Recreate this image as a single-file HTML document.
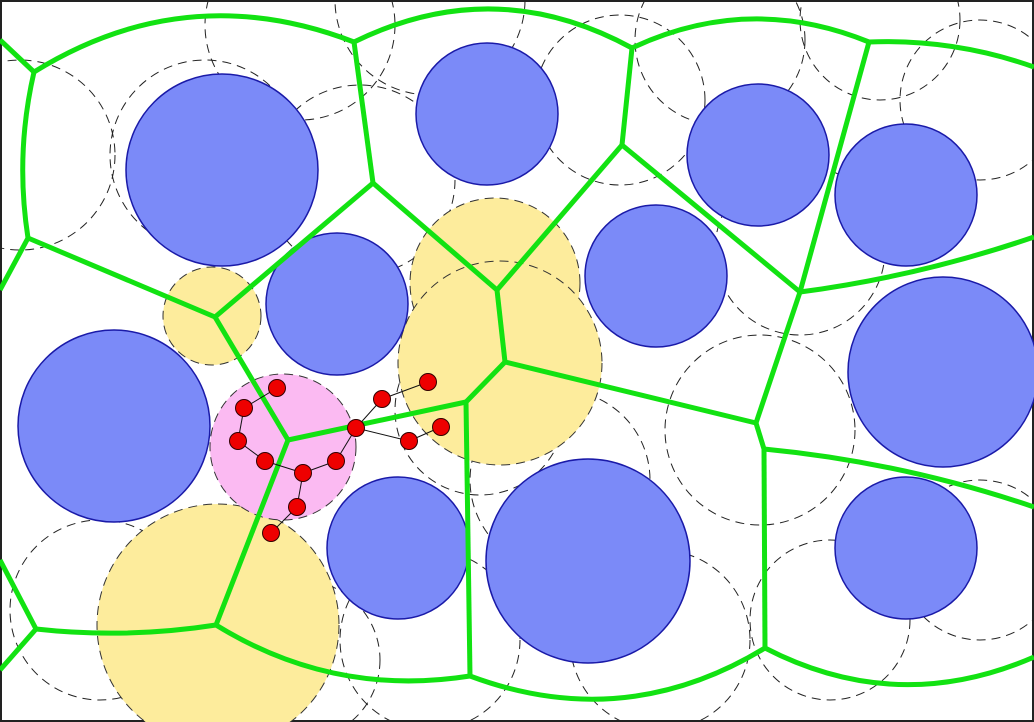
<!DOCTYPE html>
<html><head><meta charset="utf-8"><style>
body{margin:0;background:#fff}
svg{display:block}
</style></head><body>
<svg id="c" width="1034" height="722" viewBox="0 0 1034 722" xmlns="http://www.w3.org/2000/svg">
<rect x="1" y="1" width="1032" height="720" fill="#fff" stroke="#222" stroke-width="2"/>
<g id="dashed"></g>
<g id="yellow"></g>
<g id="blue"></g>
<g id="green"></g>
<g id="chain"></g>
</svg>
<script>
const blueCircles=[[222,170,96],[487,114,71],[758,155,71],[906,195,71],[337,304,71],[656,276,71],[114,426,96],[943,372,95],[398,548,71],[588,561,102],[906,548,71]];
const yellowCircles=[[212,316,49],[495,283,85],[500,363,102],[218,625,121]];
const pinkCircles=[[283,447,73]];
const dashedCircles=[[20,155,95],[205,155,95],[300,25,95],[360,180,95],[430,0,95],[480,410,85],[620,100,85],[720,40,85],[800,250,85],[760,430,95],[980,100,80],[880,20,80],[430,640,90],[660,640,90],[830,620,80],[980,560,80],[560,480,90],[100,610,90],[300,660,80]];
const redPoints=[[271,533],[297,507],[303,473],[265,461],[238,441],[244,408],[277,388],[336,461],[356,428],[382,399],[428,382],[409,441],[441,427]];
const redLinks=[[0,1],[1,2],[2,3],[3,4],[4,5],[5,6],[2,7],[7,8],[8,9],[9,10],[8,11],[11,12]];
// Voronoi edges: [x1,y1,x2,y2,bulge]
const edges=[[0,40,34,72,0],[34,72,354,42,-40],[354,42,632,48,-36],[632,48,869,42,-26],[869,42,1034,67,-8],
[34,72,28,238,8],[28,238,0,290,0],[28,238,215,317,0],[215,317,373,183,0],[373,183,354,42,0],[215,317,288,440,0],
[373,183,497,290,0],[497,290,622,145,0],[622,145,632,48,0],[622,145,800,292,0],[800,292,869,42,0],[800,292,1034,237,6],
[497,290,505,362,0],[505,362,466,402,0],[505,362,756,423,0],[756,423,800,292,0],[756,423,764,449,0],[764,449,1034,507,-8],
[764,449,765,648,0],[466,402,288,440,0],[466,402,470,676,0],[288,440,216,625,0],[36,629,216,625,6],[36,629,0,560,0],[36,629,0,670,0],
[216,625,470,676,24],[470,676,765,648,36],[765,648,1034,657,32]];
const NS='http://www.w3.org/2000/svg';
function circ(parent,c,fill,stroke,dash,w){const e=document.createElementNS(NS,'circle');e.setAttribute('cx',c[0]);e.setAttribute('cy',c[1]);e.setAttribute('r',c[2]);e.setAttribute('fill',fill);e.setAttribute('stroke',stroke);e.setAttribute('stroke-width',w);if(dash)e.setAttribute('stroke-dasharray',dash);parent.appendChild(e);return e;}
const gd=document.getElementById('dashed');
dashedCircles.forEach(c=>{const e=circ(gd,c,'none','#222','9 6',1);

});
const gy=document.getElementById('yellow');
yellowCircles.forEach(c=>{const e=circ(gy,c,'#fdec9c','#333','9 6',1);

});
pinkCircles.forEach(c=>{const e=circ(gy,c,'#fbbaf2','#333','9 6',1);

});
const gb=document.getElementById('blue');
blueCircles.forEach(c=>{const e=circ(gb,c,'#7b8af8','#1a1aa8','',1.5);

});
const gg=document.getElementById('green');
edges.forEach(d=>{const [x1,y1,x2,y2,b]=d;const mx=(x1+x2)/2,my=(y1+y2)/2;const dx=x2-x1,dy=y2-y1;const L=Math.hypot(dx,dy)||1;
const p=document.createElementNS(NS,'path');
p.setAttribute('d','M'+x1+','+y1+' Q'+(mx-(dy/L)*b*2)+','+(my+(dx/L)*b*2)+' '+x2+','+y2);
p.setAttribute('fill','none');p.setAttribute('stroke','#12e212');p.setAttribute('stroke-width','5');p.setAttribute('stroke-linejoin','round');


gg.appendChild(p);});
const gc=document.getElementById('chain');
redLinks.forEach(l=>{const a=redPoints[l[0]],b=redPoints[l[1]];const e=document.createElementNS(NS,'line');
e.setAttribute('x1',a[0]);e.setAttribute('y1',a[1]);e.setAttribute('x2',b[0]);e.setAttribute('y2',b[1]);e.setAttribute('stroke','#111');e.setAttribute('stroke-width','1');


gc.appendChild(e);});
redPoints.forEach(p=>{const e=circ(gc,[p[0],p[1],8.5],'#ee0000','#330000','',1);

});
</script>
</body></html>
